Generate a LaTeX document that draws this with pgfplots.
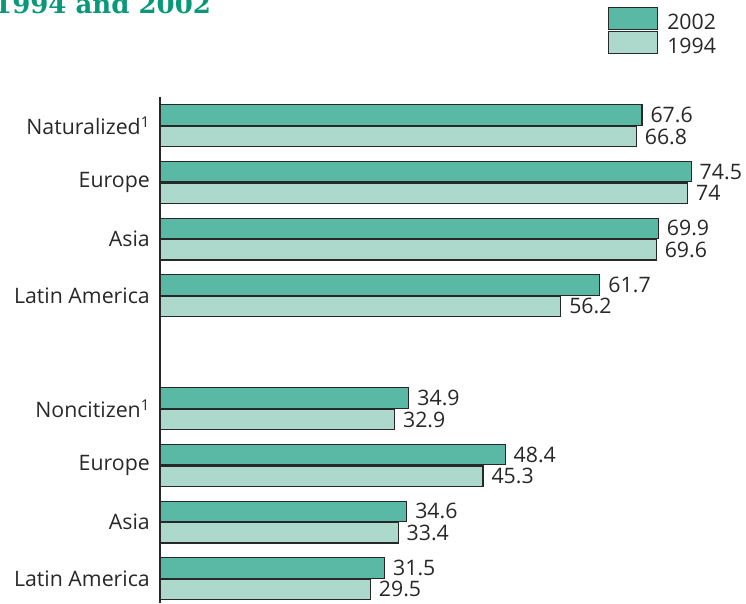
\documentclass[border=0pt]{standalone}
\usepackage{fontspec}
\setmainfont{Open Sans}
\newfontfamily\titlefont{DejaVu Serif}
\usepackage{pgfplots}
\pgfplotsset{compat=1.18}
\definecolor{darkbar}{RGB}{90,185,165}
\definecolor{lightbar}{RGB}{172,217,204}
\definecolor{titlegreen}{RGB}{10,152,122}
\definecolor{txt}{RGB}{40,40,40}
\newcommand{\lblfont}{\fontsize{21.3}{25}\selectfont}
\begin{document}
\begin{tikzpicture}[x=1pt,y=1pt]
\node[anchor=base west, inner sep=0pt, text=titlegreen, font=\titlefont\bfseries\fontsize{26}{30}\selectfont] at (-6,589.5) {1994 and 2002};
\begin{axis}[
  at={(160pt,0pt)}, anchor=south west,
  x=7.13pt, y=56.6pt,
  xmin=0, xmax=80, ymin=-0.43, ymax=8.51,
  axis x line=none,
  axis y line=left,
  axis line style={-, draw=txt, line width=1.3pt},
  ytick={8,7,6,5,3,2,1,0},
  yticklabels={Naturalized\textsuperscript{1},Europe,Asia,Latin America,Noncitizen\textsuperscript{1},Europe,Asia,Latin America},
  major tick length=0pt,
  yticklabel style={anchor=east, inner sep=0pt, xshift=-10pt, font=\lblfont, text=txt},
  xbar, bar width=0.36,
  nodes near coords,
  nodes near coords style={anchor=west, inner sep=0pt, xshift=8pt, font=\lblfont, text=txt, /pgf/number format/assume math mode=true},
  legend style={at={(0.7854,1.1777)}, anchor=north west, draw=none, fill=none, inner sep=0pt,
    row sep=-0.5pt, column sep=9pt, font=\lblfont, text=txt, nodes={inner sep=0pt}},
  legend cell align=left,
  legend image code/.code={\draw[#1] (0pt,-7pt) rectangle (49pt,15pt);},
  clip=false,
]
\addplot[xbar, bar shift=0.19, fill=darkbar, draw=txt, line width=1.1pt] coordinates {
  (67.6,8) (74.5,7) (69.9,6) (61.7,5) (34.9,3) (48.4,2) (34.6,1) (31.5,0)};
\addlegendentry{2002}
\addplot[xbar, bar shift=-0.19, fill=lightbar, draw=txt, line width=1.1pt] coordinates {
  (66.8,8) (74,7) (69.6,6) (56.2,5) (32.9,3) (45.3,2) (33.4,1) (29.5,0)};
\addlegendentry{1994}
\end{axis}
\pgfresetboundingbox
\useasboundingbox (0,0) rectangle (746,603);
\end{tikzpicture}
\end{document}
